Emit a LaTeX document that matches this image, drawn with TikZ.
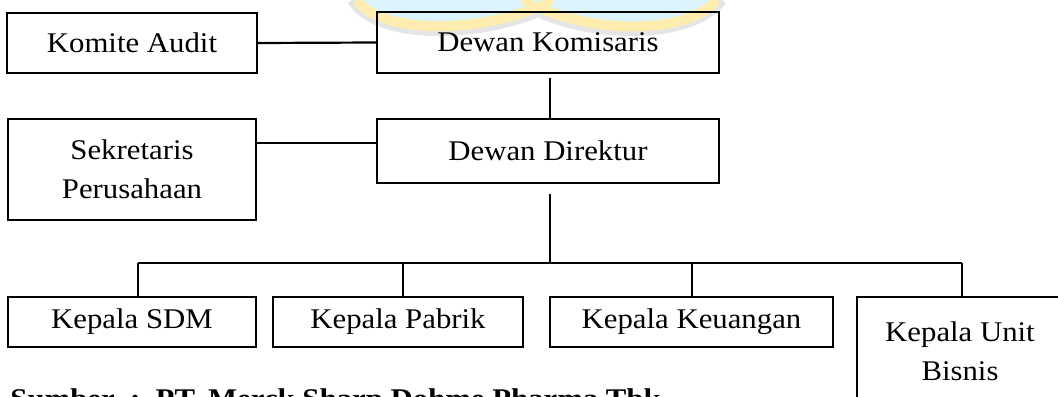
\documentclass[tikz,border=0pt]{standalone}
\usepackage{fontspec}
\setmainfont[FakeStretch=1.08]{Liberation Serif}
\usetikzlibrary{calc}
\begin{document}
\begin{tikzpicture}[x=0.5pt,y=-0.5pt,
  box/.style={draw,line width=1pt,inner sep=0pt,align=center,
    font=\fontsize{14.25}{19.6}\selectfont},
  hline/.style={line width=1.1pt},
  vline/.style={line width=0.6pt},
  bar/.style={line width=1.4pt}]
\clip (0,0) rectangle (1058,396);
\fill[white] (0,0) rectangle (1058,396);
% faint crest in the background
\fill[cyan!14] (356,0) .. controls (378,30) and (470,34) .. (538,6)
  .. controls (600,34) and (690,32) .. (716,0) -- cycle;
\draw[black!10,line width=5pt] (352,0) .. controls (374,38) and (470,40) .. (538,12)
  .. controls (600,40) and (694,38) .. (722,0);
\draw[yellow!60!orange!30,line width=5pt] (357,0) .. controls (378,32) and (470,35) .. (538,7)
  .. controls (600,35) and (690,33) .. (716,0);
\draw[yellow!60!orange!30,line width=4pt] (522,0) -- (538,7) -- (552,0);
% boxes (sizes in pt, half the pixel measure)
\node[box,minimum width=125pt,minimum height=30pt] (komite) at (132,43) {Komite Audit};
\node[box,minimum width=171pt,minimum height=30.5pt] (komisaris) at (548,42.5) {Dewan Komisaris};
\node[box,minimum width=124pt,minimum height=50.5pt] (sekretaris) at (132,169.5) {Sekretaris\\Perusahaan};
\node[box,minimum width=171pt,minimum height=32pt] (direktur) at (548,151) {Dewan Direktur};
\node[box,minimum width=124pt,minimum height=25pt] (sdm) at (132,322) {Kepala SDM};
\node[box,minimum width=125pt,minimum height=25pt] (pabrik) at (398,322) {Kepala Pabrik};
\node[box,minimum width=141.5pt,minimum height=25pt] (keuangan) at (691.5,322) {Kepala Keuangan};
\node[box,minimum width=103pt,minimum height=54pt] (unit) at (960,351) {Kepala Unit\\Bisnis};
% connectors
\draw[hline] (komite.east) -- (komisaris.west);
\draw[vline] ($(komisaris.south)+(2,4)$) -- ($(direktur.north)+(2,0)$);
\coordinate (sj) at ($(direktur.west)+(0,-8)$);
\draw[hline] (sekretaris.east |- sj) -- (sj);
\coordinate (bm) at (550,263);
\draw[vline] ($(direktur.south)+(2,10)$) -- (bm);
\coordinate (b1) at (138,263);
\coordinate (b2) at (403,263);
\coordinate (b3) at (692,263);
\coordinate (b4) at (962,263);
\draw[bar] (b1) -- (b4);
\draw[vline] (b1) -- (b1 |- sdm.north);
\draw[vline] (b2) -- (b2 |- pabrik.north);
\draw[vline] (b3) -- (b3 |- keuangan.north);
\draw[vline] (b4) -- (b4 |- unit.north);
% source line
\node[anchor=base west,inner sep=0pt,font=\fontsize{14.25}{16}\selectfont\bfseries] (src) at (10,408)
  {Sumber\ \ :\ \ PT.\ Merck\ Sharp\ Dohme\ Pharma\ Tbk};
\end{tikzpicture}
\end{document}
